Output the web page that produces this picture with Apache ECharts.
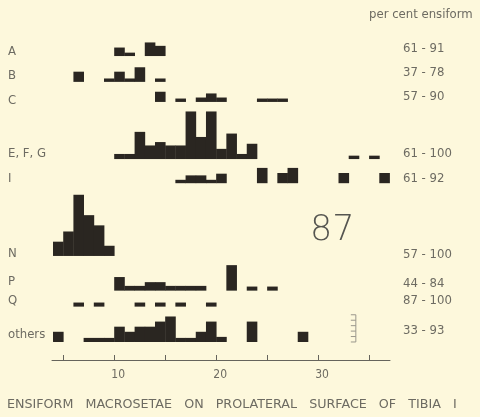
<!DOCTYPE html>
<html>
<head>
<meta charset="utf-8">
<script src="https://cdn.jsdelivr.net/npm/echarts@6/dist/echarts.min.js"></script>
<style>
  html, body { margin: 0; padding: 0; background: #fdf8dc; }
  #chart { width: 480px; height: 417px; }
</style>
</head>
<body>
<div id="chart"></div>
<script>
// Frequency of ensiform macrosetae counts, one histogram row per group.
// Each entry: [count of setae (bin start), number of specimens]
const rowNames = ['A', 'B', 'C', 'E, F, G', 'I', 'N', 'P', 'Q', 'others'];
const percentRanges = ['61 - 91', '37 - 78', '57 - 90', '61 - 100', '61 - 92', '57 - 100', '44 - 84', '87 - 100', '33 - 93'];

const binsA = [[10, 2.5], [11, 1], [13, 4], [14, 3]];
const binsB = [[6, 3], [9, 1], [10, 3], [11, 1], [12, 4.3], [14, 1]];
const binsC = [[14, 3], [16, 1], [18, 1.3], [19, 2.5], [20, 1.3], [24, 1], [25, 1], [26, 1]];
const binsEFG = [[10, 1.5], [11, 1.5], [12, 8], [13, 4], [14, 5], [15, 4], [16, 4], [17, 14], [18, 6.5],
                 [19, 14], [20, 3], [21, 7.5], [22, 1.5], [23, 4.5], [33, 1], [35, 1]];
const binsI = [[16, 1], [17, 2.3], [18, 2.3], [19, 1], [20, 2.8], [24, 4.5], [26, 3], [27, 4.5], [32, 3], [36, 3]];
const binsN = [[4, 4.2], [5, 7.2], [6, 18], [7, 12], [8, 9], [9, 3]];
const binsP = [[10, 4], [11, 1.4], [12, 1.4], [13, 2.5], [14, 2.5], [15, 1.4], [16, 1.4], [17, 1.4], [18, 1.4],
               [21, 7.5], [23, 1.2], [25, 1.2]];
const binsQ = [[6, 1.2], [8, 1.2], [12, 1.2], [14, 1.2], [16, 1.2], [19, 1.2]];
const binsOthers = [[4, 3], [7, 1.2], [8, 1.2], [9, 1.2], [10, 4.5], [11, 3], [12, 4.5], [13, 4.5], [14, 6],
                    [15, 7.5], [16, 1.2], [17, 1.2], [18, 3], [19, 6], [20, 1.5], [23, 6], [28, 3]];
const rowBins = [binsA, binsB, binsC, binsEFG, binsI, binsN, binsP, binsQ, binsOthers];

const xTicks = [5, 10, 15, 20, 25, 30, 35];
const xTickLabels = [10, 20, 30];

// Layout: baseline of each row in y-axis units (one unit = one specimen)
const rowBaseline = [89.4, 81.8, 75.9, 59.1, 52.0, 30.6, 20.4, 15.7, 5.3];
const rowLabelY = [53, 77, 102, 155, 180, 255, 283, 302, 336];
const pctLabelY = [50, 74, 98, 155, 180, 256, 285, 302, 332];

const ink = '#2a2621';
const textGrey = '#6d6b62';
const labelFont = '"DejaVu Sans Condensed", "Liberation Sans Narrow", "DejaVu Sans", sans-serif';

const barData = [];
rowBins.forEach((bins, r) => bins.forEach(([bin, n]) => barData.push([bin, r, n])));

const graphics = [];
rowNames.forEach((name, i) => {
  graphics.push({
    type: 'text', left: 8, top: rowLabelY[i] - 8,
    style: { text: name, fill: textGrey, font: '13px ' + labelFont }
  });
  graphics.push({
    type: 'text', left: 403, top: pctLabelY[i] - 8,
    style: { text: percentRanges[i], fill: textGrey, font: '13px ' + labelFont }
  });
});
graphics.push({
  type: 'text', left: 369, top: 8,
  style: { text: 'per cent ensiform', fill: textGrey, font: '13px ' + labelFont }
});
graphics.push({
  type: 'text', left: 310, top: 213,
  style: { text: '87', fill: '#555550', font: '200 35px "DejaVu Sans", sans-serif' }
});

const chart = echarts.init(document.getElementById('chart'), null, { renderer: 'canvas' });
chart.setOption({
  backgroundColor: '#fdf8dc',
  animation: false,
  title: {
    text: 'ENSIFORM   MACROSETAE   ON   PROLATERAL   SURFACE   OF   TIBIA   I',
    left: 2, top: 393,
    textStyle: { color: textGrey, fontWeight: 'normal', fontSize: 12.7, fontFamily: '"DejaVu Sans", sans-serif' }
  },
  grid: { left: 52, right: 90, top: 20, bottom: 57 },
  xAxis: {
    type: 'value', min: 3.9, max: 37.05,
    axisLine: { lineStyle: { color: '#66645c', width: 1 } },
    axisTick: { show: true, inside: true, length: 5, customValues: xTicks, lineStyle: { color: '#66645c' } },
    axisLabel: { customValues: xTickLabels, color: textGrey, fontSize: 12, fontFamily: labelFont, margin: 9, padding: [0, 0, 0, 8] },
    splitLine: { show: false }
  },
  yAxis: { type: 'value', min: 0, max: 100, show: false },
  graphic: graphics,
  series: [
    {
      type: 'custom',
      data: barData,
      encode: { x: 0, y: 1 },
      renderItem: (params, api) => {
        const bin = api.value(0), row = api.value(1), n = api.value(2);
        const base = rowBaseline[row];
        const p0 = api.coord([bin, base]);
        const p1 = api.coord([bin + 1, base + n]);
        return {
          type: 'rect',
          shape: { x: p0[0], y: p1[1], width: p1[0] - p0[0] + 0.4, height: p0[1] - p1[1] },
          style: { fill: ink }
        };
      }
    },
    {
      // small vertical scale beside the last row
      type: 'custom',
      data: [[33.7, 8, 6]],
      renderItem: (params, api) => {
        const x = api.value(0), span = api.value(1), ticks = api.value(2);
        const base = rowBaseline[8];
        const b = api.coord([x, base]);
        const t = api.coord([x, base + span]);
        const children = [{
          type: 'line', shape: { x1: b[0], y1: b[1], x2: t[0], y2: t[1] },
          style: { stroke: '#9a978c', lineWidth: 1 }
        }];
        for (let k = 0; k < ticks; k++) {
          const y = b[1] + (t[1] - b[1]) * k / (ticks - 1);
          children.push({ type: 'line', shape: { x1: b[0] - 5, y1: y, x2: b[0], y2: y }, style: { stroke: '#9a978c', lineWidth: 1 } });
        }
        return { type: 'group', children };
      }
    }
  ]
});
</script>
</body>
</html>
